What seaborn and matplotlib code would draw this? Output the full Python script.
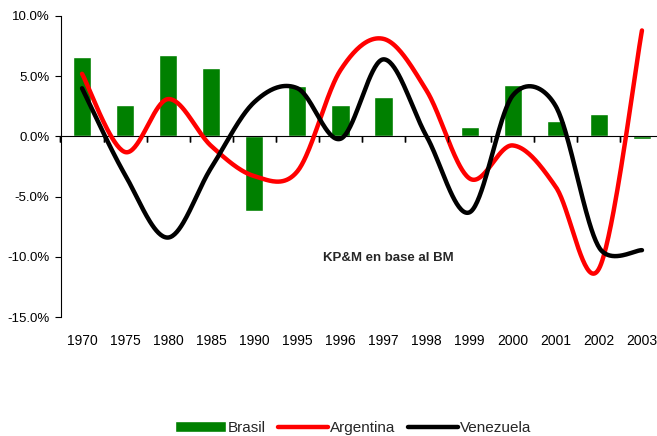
import numpy as np
import pandas as pd
import matplotlib
matplotlib.use("Agg")
import matplotlib.pyplot as plt
import matplotlib.lines as mlines
import seaborn as sns
from matplotlib.ticker import FuncFormatter

years = ['1970', '1975', '1980', '1985', '1990', '1995', '1996', '1997',
         '1998', '1999', '2000', '2001', '2002', '2003']
brasil = [6.6, 2.6, 6.8, 5.7, -6.2, 4.2, 2.6, 3.3, 0.1, 0.8, 4.3, 1.3, 1.9, -0.2]
argentina = [5.2, -1.3, 3.1, -0.8, -3.3, -2.9, 5.5, 8.1, 3.8, -3.5, -0.75, -4.2, -11.0, 8.8]
venezuela = [4.0, -3.2, -8.4, -2.6, 2.85, 4.0, -0.2, 6.4, 0.0, -6.3, 3.4, 2.5, -9.2, -9.45]
yticks = [-15, -10, -5, 0, 5, 10]
note = "KP&M en base al BM"

sns.set_style("white")
plt.rcParams['font.family'] = ['Liberation Sans', 'DejaVu Sans']

PX_X = 43.07   # pixels per category
PX_Y = 12.04   # pixels per percent


def excel_smooth(vals, n=40):
    """Excel-style Bezier smoothing (control arms = chord/6, limited to half segment)."""
    y = np.asarray(vals, dtype=float)
    pts = np.column_stack([np.arange(len(y)) * PX_X, y * PX_Y])
    out = []
    for i in range(len(pts) - 1):
        p1, p2 = pts[i], pts[i + 1]
        p0 = pts[i - 1] if i > 0 else p1
        p3 = pts[i + 2] if i + 2 < len(pts) else p2
        d12 = np.linalg.norm(p2 - p1)
        a1 = (p2 - p0) / 6.0
        a2 = (p3 - p1) / 6.0
        for a in (a1, a2):
            la = np.linalg.norm(a)
            if la > d12 / 2:
                a *= (d12 / 2) / la
        c1 = p1 + a1
        c2 = p2 - a2
        t = np.linspace(0, 1, n, endpoint=(i == len(pts) - 2))[:, None]
        b = ((1 - t) ** 3) * p1 + 3 * ((1 - t) ** 2) * t * c1 + 3 * (1 - t) * t ** 2 * c2 + t ** 3 * p2
        out.append(b)
    out = np.vstack(out)
    return out[:, 0] / PX_X, out[:, 1] / PX_Y


df = pd.DataFrame({'year': years, 'Brasil': brasil})

fig = plt.figure(figsize=(6.57, 4.36), dpi=100)
ax = fig.add_axes([60.5 / 657, 1 - 317 / 436, 603 / 657, 301 / 436])

sns.barplot(data=df, x='year', y='Brasil', color='#008000', width=0.42,
            saturation=1, ax=ax, label='Brasil', zorder=2)
if ax.get_legend() is not None:
    ax.get_legend().remove()
ax.set_xlim(-0.5, len(years) - 0.5)
ax.set_ylim(-15, 10)
ax.set_xlabel('')
ax.set_ylabel('')

# zero axis with category labels pushed to the bottom
ax.spines['bottom'].set_position(('data', 0))
ax.set_xticks(np.arange(len(years)), labels=years)
bounds = np.arange(len(years) + 1) - 0.5
ax.set_xticks(bounds, minor=True)
zero_frac = (0 - yticks[0]) / (yticks[-1] - yticks[0])
label_pad = (zero_frac * 301 + 17) * 72 / 100
ax.tick_params(axis='x', which='major', length=0, pad=label_pad, labelsize=10,
               labelcolor='black')
ax.tick_params(axis='x', which='minor', length=4, width=1.0, direction='out',
               color='black', bottom=True)
ax.spines['bottom'].set_color('black')
ax.spines['bottom'].set_linewidth(0.8)

# boundary tick marks on the zero line (between categories)
ax.plot(bounds, np.zeros_like(bounds), linestyle='None', marker=mlines.TICKDOWN,
        markersize=4, markeredgewidth=1.0, color='black', clip_on=False, zorder=5)

# y axis
ax.set_yticks(yticks)
ax.yaxis.set_major_formatter(FuncFormatter(lambda v, _: f"{v:.1f}%"))
ax.tick_params(axis='y', length=4, width=0.8, direction='out', color='black',
               labelsize=9.5, pad=4, left=True, labelcolor='black')
for s in ['top', 'right']:
    ax.spines[s].set_visible(False)
ax.spines['left'].set_color('black')
ax.spines['left'].set_linewidth(0.8)

xa, ya = excel_smooth(argentina)
ax.plot(xa, ya, color='#FF0000', lw=3.2, solid_capstyle='round', label='Argentina', zorder=3)
xv, yv = excel_smooth(venezuela)
ax.plot(xv, yv, color='black', lw=3.2, solid_capstyle='round', label='Venezuela', zorder=4)
ax.set_xlim(-0.5, len(years) - 0.5)

ax.text(7.12, -10.1, note, ha='center', va='center', fontsize=9.5, fontweight='bold')

handles, labels = ax.get_legend_handles_labels()
order = [labels.index(l) for l in ['Brasil', 'Argentina', 'Venezuela']]
leg = fig.legend([handles[i] for i in order], [labels[i] for i in order],
                 loc='center', bbox_to_anchor=(353.5 / 657, 1 - 428 / 436),
                 ncol=3, frameon=False, fontsize=11, handlelength=3.3,
                 handletextpad=0.13, columnspacing=0.8, borderpad=0)

fig.canvas.draw()
fig.savefig('out.png', dpi=100)
